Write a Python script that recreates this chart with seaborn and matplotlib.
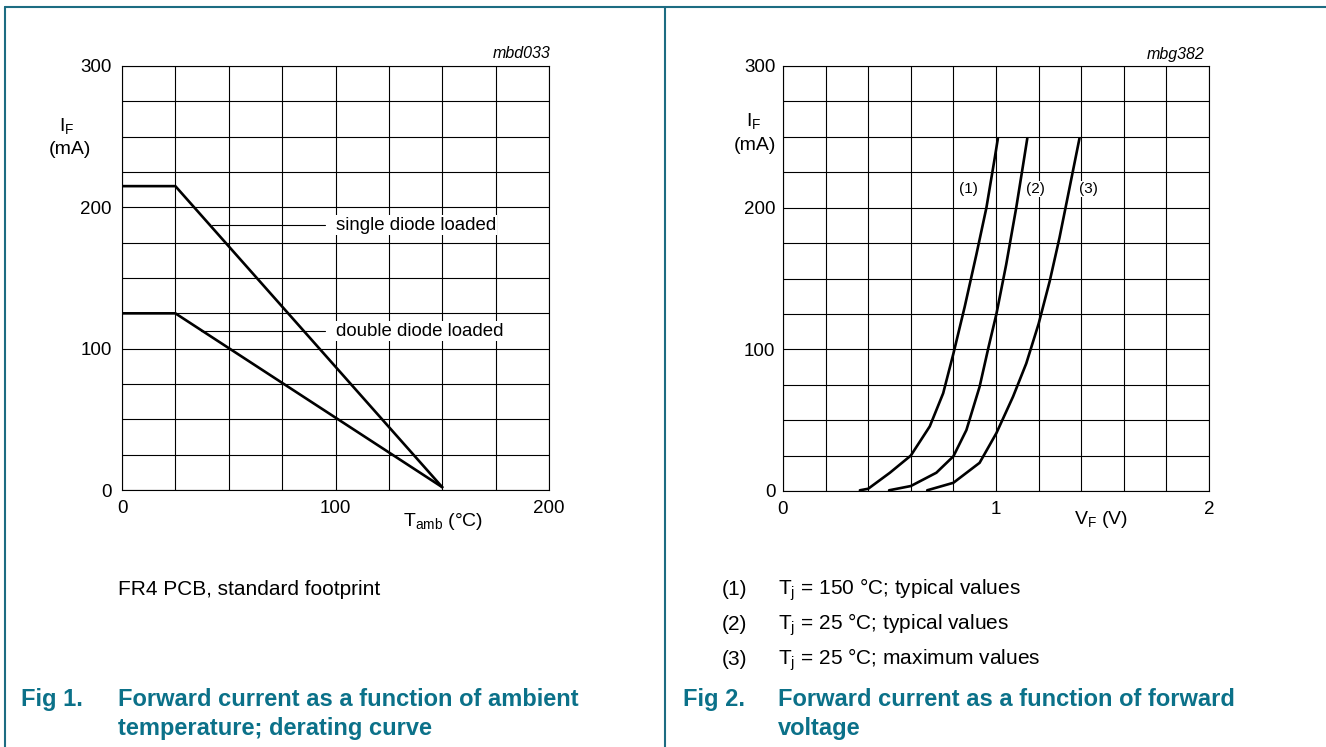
import numpy as np
import pandas as pd
import matplotlib
matplotlib.use("Agg")
import matplotlib.pyplot as plt
import seaborn as sns
from matplotlib.lines import Line2D

sns.set_style("white")
plt.rcParams['font.family'] = ['Liberation Sans', 'DejaVu Sans']
plt.rcParams['mathtext.default'] = 'regular'
plt.rcParams['text.color'] = 'black'
plt.rcParams['axes.labelcolor'] = 'black'
plt.rcParams['xtick.color'] = 'black'
plt.rcParams['ytick.color'] = 'black'

# Fig 1: derating curve
t_amb = [0, 25, 150]
i_single = [215, 215, 2]
i_double = [125, 125, 2]

# Fig 2: forward characteristics
vf_1 = [0.361, 0.40, 0.502, 0.60, 0.689, 0.752, 0.80, 0.853, 0.908, 0.955, 0.994, 1.009]
if_1 = [0.5, 1.6, 12.9, 25, 45.6, 69, 97, 130, 167, 200, 235, 249]
vf_2 = [0.498, 0.60, 0.72, 0.80, 0.861, 0.923, 0.965, 1.002, 1.048, 1.095, 1.127, 1.147]
if_2 = [0.5, 3.5, 12.9, 24.5, 43, 73.6, 101.6, 125, 160, 200, 230, 249]
vf_3 = [0.677, 0.80, 0.923, 1.002, 1.08, 1.142, 1.2, 1.252, 1.298, 1.345, 1.392]
if_3 = [0.5, 5.8, 19.9, 40.9, 66.6, 90, 118, 148, 178.7, 213.8, 249]

curve_names = ['(1)', '(2)', '(3)']
legend_lines = ['T$_j$ = 150 °C; typical values',
                'T$_j$ = 25 °C; typical values',
                'T$_j$ = 25 °C; maximum values']

W, H = 1326, 747
TEAL = '#0b7189'
BORDER = '#1d6c82'


def px(x, y):
    return x / W, 1 - y / H


def setup(ax, xmax, xstep, xticks):
    ax.set_xlim(0, xmax)
    ax.set_ylim(0, 300)
    ax.set_xticks(np.arange(0, xmax + xstep / 2, xstep), minor=True)
    ax.set_yticks(np.arange(0, 301, 25), minor=True)
    ax.set_xticks(xticks)
    ax.set_yticks([0, 100, 200, 300])
    ax.grid(True, which='both', color='black', lw=0.8)
    ax.tick_params(which='both', length=0, labelsize=13.5, colors='black')
    ax.tick_params(axis='x', pad=7.5)
    for s in ax.spines.values():
        s.set_color('black')
        s.set_linewidth(0.8)
    ax.set_xlabel('')
    ax.set_ylabel('')


fig = plt.figure(figsize=(13.26, 7.47), dpi=100)

# ---- left chart
ax1 = fig.add_axes([122 / W, 1 - 490 / H, 427 / W, 424 / H])
df1 = pd.DataFrame({'t': t_amb, 'single': i_single, 'double': i_double})
sns.lineplot(data=df1, x='t', y='single', ax=ax1, color='black', lw=1.9, sort=False)
sns.lineplot(data=df1, x='t', y='double', ax=ax1, color='black', lw=1.9, sort=False)
setup(ax1, 200, 25, [0, 100, 200])
ax1.tick_params(axis='y', pad=7.5)
ax1.set_xticklabels(['0', '100', '200'])

ax1.plot([42, 95], [187.5, 187.5], color='black', lw=0.8)
ax1.text(100, 187.5, 'single diode loaded', fontsize=13.4, va='center', ha='left',
         bbox=dict(fc='white', ec='none', pad=1))
ax1.plot([37, 95], [112.5, 112.5], color='black', lw=0.8)
ax1.text(100, 112.5, 'double diode loaded', fontsize=13.4, va='center', ha='left',
         bbox=dict(fc='white', ec='none', pad=1))

fig.text(*px(550, 53), 'mbd033', fontsize=11.5, style='italic', ha='right', va='center')
fig.text(*px(67, 126), 'I$_F$', fontsize=14, ha='center', va='center')
fig.text(*px(70, 149), '(mA)', fontsize=14, ha='center', va='center')
fig.text(*px(443, 522), 'T$_{amb}$ (°C)', fontsize=14, ha='center', va='center')

# ---- right chart
ax2 = fig.add_axes([783 / W, 1 - 491 / H, 426 / W, 425 / H])
for v, i in [(vf_1, if_1), (vf_2, if_2), (vf_3, if_3)]:
    d = pd.DataFrame({'vf': v, 'if': i})
    sns.lineplot(data=d, x='vf', y='if', ax=ax2, color='black', lw=1.9, sort=False)
setup(ax2, 2, 0.2, [0, 1, 2])
ax2.tick_params(axis='y', pad=5.5)
ax2.set_xticklabels(['0', '1', '2'])

for name, xv in zip(curve_names, [0.871, 1.183, 1.432]):
    ax2.text(xv, 213, name, fontsize=11, ha='center', va='center',
             bbox=dict(fc='white', ec='none', pad=0.5))

fig.text(*px(1204, 54), 'mbg382', fontsize=11.5, style='italic', ha='right', va='center')
fig.text(*px(754, 121), 'I$_F$', fontsize=14, ha='center', va='center')
fig.text(*px(755, 146), '(mA)', fontsize=14, ha='center', va='center')
fig.text(*px(1101, 520), 'V$_F$ (V)', fontsize=14, ha='center', va='center')

# ---- notes and captions
fig.text(*px(118, 595), 'FR4 PCB, standard footprint', fontsize=15, ha='left', va='baseline')
for k, (name, line) in enumerate(zip(curve_names, legend_lines)):
    y = 595 + k * 35
    fig.text(*px(722, y), name, fontsize=15, ha='left', va='baseline')
    fig.text(*px(778, y), line, fontsize=15, ha='left', va='baseline')

cap = dict(fontsize=17, fontweight='bold', color=TEAL, ha='left', va='baseline')
fig.text(*px(21, 706), 'Fig 1.', **cap)
fig.text(*px(118, 706), 'Forward current as a function of ambient', **cap)
fig.text(*px(118, 735), 'temperature; derating curve', **cap)
fig.text(*px(683, 706), 'Fig 2.', **cap)
fig.text(*px(778, 706), 'Forward current as a function of forward', **cap)
fig.text(*px(778, 735), 'voltage', **cap)

# frame lines
for xs, ys in [([5, W], [7, 7]), ([5, 5], [7, H]), ([665, 665], [7, H])]:
    fig.add_artist(Line2D([x / W for x in xs], [1 - y / H for y in ys],
                          transform=fig.transFigure, color=BORDER, lw=1.5))

fig.savefig('out.png', dpi=100, facecolor='white')
